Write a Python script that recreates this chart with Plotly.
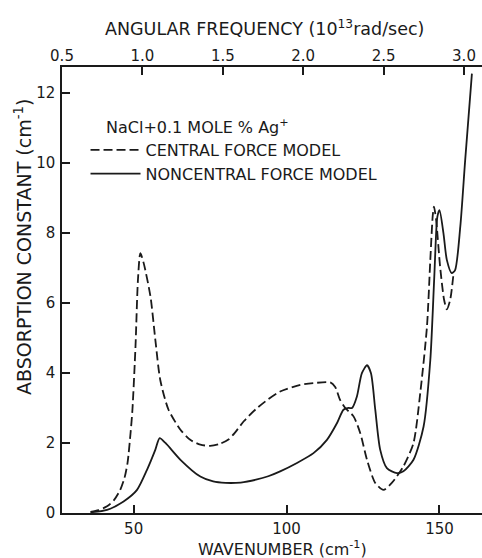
import plotly.graph_objects as go

# ---- data ----
central_wn = [35.9, 38.5, 41.3, 43.5, 45.6, 47.0, 48.0, 49.0, 49.6, 50.6, 51.4, 52.2, 53.3, 55.5, 57.1,
              58.7, 61.4, 65.3, 68.5, 71.8, 75.0, 78.0, 81.0, 83.0, 86.0, 90.0, 94.0, 97.9, 104.5,
              108.8, 114.3, 115.9, 117.5, 119.2, 121.9, 124.1, 126.3, 129.0, 131.7, 134.4, 138.2,
              141.5, 143.7, 145.9, 147.0, 147.8, 148.2, 148.9, 150.2, 151.5, 152.4, 153.5, 154.6]
central_abs = [0.03, 0.08, 0.19, 0.36, 0.66, 1.0, 1.43, 2.3, 2.95, 4.75, 6.66, 7.42, 7.13, 6.18, 4.94,
               3.80, 2.95, 2.38, 2.09, 1.95, 1.92, 1.97, 2.10, 2.28, 2.62, 2.97, 3.25, 3.47, 3.66,
               3.71, 3.73, 3.60, 3.23, 3.00, 2.76, 2.28, 1.52, 0.86, 0.66, 0.86, 1.33,
               2.00, 3.42, 5.32, 7.23, 8.50, 8.75, 8.37, 7.04, 6.09, 5.82, 6.09, 6.85]

noncentral_wn = [35.9, 41.3, 46.7, 51.1, 54.4, 57.1, 58.5, 60.4, 65.3, 71.8, 76.0, 80.0, 85.0, 90.0,
                 94.0, 97.9, 103.4, 108.8, 113.2, 116.5, 118.6, 120.3, 121.4, 123.0, 124.6, 126.3,
                 127.6, 129.0, 130.6, 132.8, 136.1, 138.2, 141.5, 144.8, 147.0, 148.3, 149.3, 150.0,
                 151.3, 152.4, 154.0, 155.1, 156.8, 158.4, 160.6]
noncentral_abs = [0.02, 0.09, 0.33, 0.66, 1.24, 1.81, 2.14, 2.00, 1.52, 1.04, 0.90, 0.86, 0.87, 0.95,
                  1.05, 1.19, 1.43, 1.71, 2.09, 2.57, 2.95, 3.00, 3.00, 3.33, 3.99, 4.22,
                  3.99, 2.95, 1.81, 1.28, 1.14, 1.19, 1.52, 2.47, 4.37, 6.75, 8.46, 8.65,
                  7.99, 7.23, 6.85, 6.94, 8.18, 10.08, 12.55]

wn_ticks = [50, 100, 150]
abs_ticks = [0, 2, 4, 6, 8, 10, 12]
ang_ticks = [0.5, 1.0, 1.5, 2.0, 2.5, 3.0]
ang_tick_text = ["0.5", "1.0", "1.5", "2.0", "2.5", "3.0"]

FONT = "DejaVu Sans"
INK = "#1a1a1a"

fig = go.Figure()
fig.add_trace(go.Scatter(x=central_wn, y=central_abs, mode="lines", name="CENTRAL FORCE MODEL",
                         line=dict(color=INK, width=1.8, dash="9px,4px", shape="spline", smoothing=0.7)))
fig.add_trace(go.Scatter(x=noncentral_wn, y=noncentral_abs, mode="lines", name="NONCENTRAL FORCE MODEL",
                         line=dict(color=INK, width=1.8, shape="spline", smoothing=0.7)))
# empty trace to carry the top (angular frequency) axis
fig.add_trace(go.Scatter(x=[ang_ticks[0]], y=[None], xaxis="x2", mode="lines",
                         showlegend=False, hoverinfo="skip"))

axis_common = dict(showline=True, linecolor=INK, linewidth=1.5, ticks="inside", ticklen=8,
                   tickwidth=1.5, tickcolor=INK, showgrid=False, zeroline=False,
                   tickfont=dict(family=FONT, size=15, color=INK))

fig.update_layout(
    width=482, height=558,
    margin=dict(l=62, r=0, t=67, b=45),
    paper_bgcolor="white", plot_bgcolor="white",
    xaxis=dict(range=[26.57, 163.9], tickvals=wn_ticks, ticklabelstandoff=1, **axis_common),
    xaxis2=dict(range=[0.5, 3.112], overlaying="x", side="top", tickvals=ang_ticks,
                ticktext=ang_tick_text, ticklabelstandoff=-2, **axis_common),
    yaxis=dict(range=[0, 12.74], tickvals=abs_ticks, ticklabelstandoff=2, **axis_common),
    showlegend=True,
    legend=dict(x=0.056, y=0.852, xanchor="left", yanchor="top", bgcolor="rgba(0,0,0,0)",
                font=dict(family=FONT, size=16, color=INK),
                itemwidth=50, tracegroupgap=0),
    annotations=[
        dict(text="NaCl+0.1 MOLE % Ag<sup>+</sup>", xref="paper", yref="paper",
             x=0.1, y=0.8657, xanchor="left", yanchor="middle", showarrow=False,
             font=dict(family=FONT, size=16, color=INK)),
        dict(text="ANGULAR FREQUENCY (10<sup>13</sup>rad/sec)", xref="paper", yref="paper",
             x=0.483, y=1.0, yshift=39, xanchor="center", yanchor="middle", showarrow=False,
             font=dict(family=FONT, size=17.5, color=INK)),
        dict(text="WAVENUMBER (cm<sup>-1</sup>)", xref="paper", yref="paper",
             x=0.524, y=0.0, yshift=-35, xanchor="center", yanchor="middle", showarrow=False,
             font=dict(family=FONT, size=16, color=INK)),
        dict(text="ABSORPTION CONSTANT (cm<sup>-1</sup>)", xref="paper", yref="y",
             x=0.0, xshift=-39, y=7.6, xanchor="center", yanchor="middle", textangle=-90,
             showarrow=False, font=dict(family=FONT, size=19, color=INK)),
    ],
)

fig.write_html("out.html")
